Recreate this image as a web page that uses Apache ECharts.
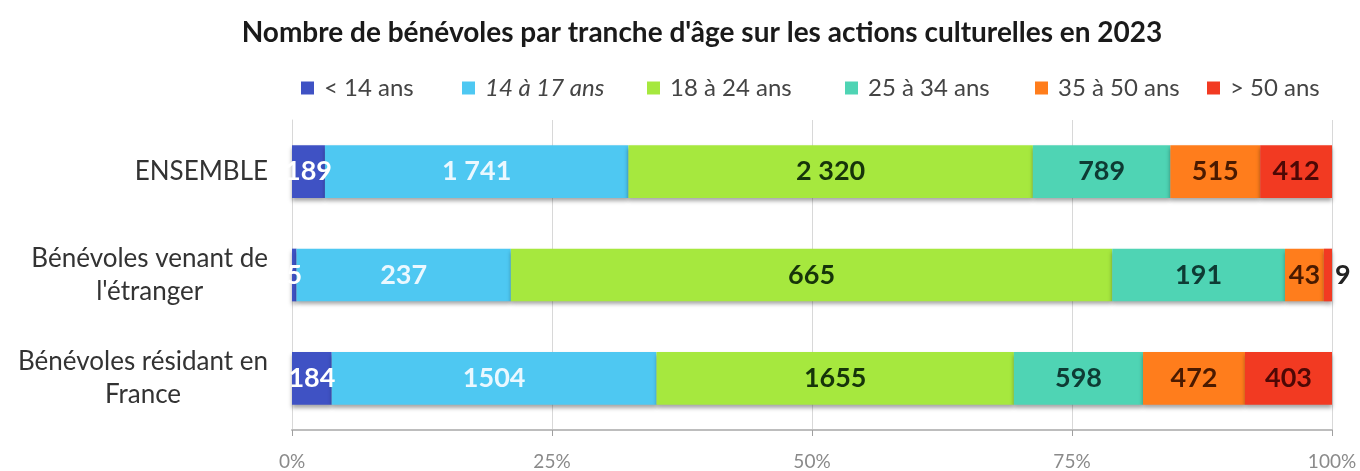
<!DOCTYPE html>
<html lang="fr">
<head>
    <meta charset="UTF-8">
    <title>Bénévoles par tranche d'âge</title>
    <script src="https://cdn.jsdelivr.net/npm/echarts@6/dist/echarts.min.js"></script>
    <style>
        html, body { margin: 0; padding: 0; background: #fff; }
    </style>
</head>
<body>
    <div id="main" style="width:1360px;height:471px;"></div>
</body>
</html>
<script type="text/javascript">
    // catégories (de haut en bas)
    var categories = ['ENSEMBLE', "Bénévoles venant de\nl'étranger", 'Bénévoles résidant en\nFrance'];
    var ageGroups = ['< 14 ans', '14 à 17 ans', '18 à 24 ans', '25 à 34 ans', '35 à 50 ans', '> 50 ans'];
    // effectifs par tranche, une ligne par catégorie
    var ensemble = [189, 1741, 2320, 789, 515, 412];
    var etranger = [5, 237, 665, 191, 43, 9];
    var france = [184, 1504, 1655, 598, 472, 403];
    var percentTicks = ['0%', '25%', '50%', '75%', '100%'];

    var rows = [ensemble, etranger, france];
    var spaced = [true, false, false]; // la ligne ENSEMBLE affiche "1 741"
    var colors = ['#3f52c4', '#4ec8f2', '#a6e83e', '#4fd4b4', '#ff7d1c', '#f23a22'];
    var labelColors = ['#ffffff', '#eaf8ff', '#16340a', '#0e3b34', '#4a1a00', '#4d0805'];
    var FONT = 'Lato, "Open Sans", sans-serif';

    function fmt(v, sp) {
        var s = String(v);
        if (sp && v >= 1000) s = s.slice(0, s.length - 3) + ' ' + s.slice(-3);
        return s;
    }

    var totals = rows.map(function (r) { return r.reduce(function (a, b) { return a + b; }, 0); });

    var series = ageGroups.map(function (name, i) {
        return {
            name: name,
            type: 'bar',
            stack: 'total',
            barWidth: '51%',
            itemStyle: {
                color: colors[i],
                shadowColor: 'rgba(0,0,0,0.35)',
                shadowBlur: 4,
                shadowOffsetY: 3
            },
            label: {
                show: true,
                position: 'inside',
                color: labelColors[i],
                fontFamily: FONT,
                fontWeight: 'bold',
                fontSize: 27
            },
            data: rows.map(function (r, j) {
                var pct = r[i] / totals[j] * 100;
                var item = { value: pct, label: { formatter: fmt(r[i], spaced[j]) } };
                if (pct < 1 && i === ageGroups.length - 1) {
                    item.label.position = 'right';
                    item.label.color = '#222';
                    item.label.distance = 3;
                }
                return item;
            })
        };
    });

    var legendLeft = [296, 457, 642, 840, 1030, 1202];
    var legends = ageGroups.map(function (name, i) {
        return {
            data: [name],
            left: legendLeft[i],
            top: 71,
            itemWidth: 13,
            itemHeight: 13,
            itemGap: 0,
            icon: 'rect',
            textStyle: {
                fontFamily: FONT,
                fontSize: 24,
                color: '#444',
                fontStyle: i === 1 ? 'italic' : 'normal',
                padding: [0, 0, 0, 5]
            }
        };
    });

    var myChart = echarts.init(document.getElementById('main'));
    var option = {
        animation: false,
        title: {
            text: "Nombre de bénévoles par tranche d'âge sur les actions culturelles en 2023",
            left: 697,
            textAlign: 'center',
            top: 14,
            textStyle: { fontFamily: FONT, fontSize: 28, fontWeight: 'bold', color: '#1a1a1a' }
        },
        legend: legends,
        grid: { left: 292, right: 28, top: 120, bottom: 38 },
        xAxis: {
            type: 'value',
            min: 0,
            max: 100,
            interval: 25,
            axisLine: { show: true, lineStyle: { color: '#bdbdbd', width: 2 } },
            axisTick: { show: true, length: 6, lineStyle: { color: '#a0a0a0' } },
            splitLine: { lineStyle: { color: '#d8d8d8' } },
            axisLabel: {
                margin: 22,
                color: '#8a8a8a',
                fontFamily: FONT,
                fontSize: 19,
                formatter: function (v) { return percentTicks[Math.round(v / 25)]; }
            }
        },
        yAxis: {
            type: 'category',
            inverse: true,
            data: categories,
            axisLine: { show: true, lineStyle: { color: '#d8d8d8' } },
            axisTick: { show: false },
            axisLabel: {
                margin: 24,
                color: '#333',
                fontFamily: FONT,
                fontSize: 25,
                lineHeight: 33,
                formatter: function (v) {
                    return v.split('\n').map(function (l) { return '{c|' + l + '}'; }).join('\n');
                },
                rich: {
                    c: { fontFamily: FONT, fontSize: 26, color: '#333', align: 'center', lineHeight: 33 }
                }
            }
        },
        series: series
    };
    myChart.setOption(option);
</script>
